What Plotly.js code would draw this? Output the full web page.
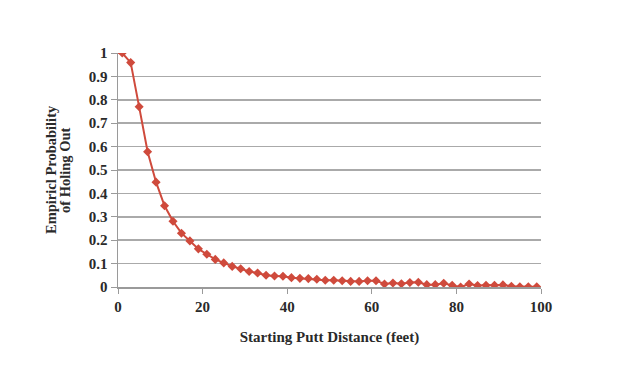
<!DOCTYPE html>
<html>
<head>
<meta charset="utf-8">
<script src="https://cdn.plot.ly/plotly-3.0.1.min.js"></script>
<style>html,body{margin:0;padding:0;background:#fff;}#chart{width:622px;height:368px;}</style>
</head>
<body>
<div id="chart"></div>
<script>
const distance = [1,3,5,7,9,11,13,15,17,19,21,23,25,27,29,31,33,35,37,39,41,43,45,47,49,51,53,55,57,59,61,63,65,67,69,71,73,75,77,79,81,83,85,87,89,91,93,95,97,99];
const probability = [1.0,0.959,0.770,0.578,0.448,0.347,0.281,0.230,0.197,0.163,0.140,0.118,0.103,0.088,0.078,0.066,0.060,0.050,0.047,0.046,0.040,0.037,0.036,0.033,0.029,0.029,0.027,0.024,0.024,0.027,0.027,0.013,0.017,0.014,0.019,0.020,0.010,0.010,0.016,0.007,0.0,0.013,0.006,0.007,0.007,0.009,0.003,0.001,0.001,0.001];
const xTickVals = [0,20,40,60,80,100];
const yTickVals = [0,0.1,0.2,0.3,0.4,0.5,0.6,0.7,0.8,0.9,1];
const yTickText = ['0','0.1','0.2','0.3','0.4','0.5','0.6','0.7','0.8','0.9','1'];
const xTitle = 'Starting Putt Distance (feet)';
const yTitleLines = ['Empiricl Probability', 'of Holing Out'];

const fontFam = '"Liberation Serif", "DejaVu Serif", serif';
const textColor = '#2a2a2a';
const trace = {
  x: distance, y: probability, type: 'scatter', mode: 'lines+markers',
  line: {color: '#cf4a3c', width: 2},
  marker: {symbol: 'diamond', size: 7, color: '#cf4a3c'},
  showlegend: false, hoverinfo: 'x+y'
};
const plotL = 118, plotW = 423;
const layout = {
  width: 622, height: 368,
  margin: {l: plotL, r: 81, t: 53, b: 81},
  paper_bgcolor: '#fff', plot_bgcolor: '#fff',
  font: {family: fontFam, color: textColor, size: 12},
  xaxis: {
    range: [0, 100], tickvals: xTickVals, ticktext: xTickVals.map(String),
    showgrid: false, zeroline: false, showline: true, linecolor: '#9a9a9a', linewidth: 1.5,
    ticks: 'outside', ticklen: 5, tickcolor: '#9a9a9a', tickwidth: 1,
    tickfont: {family: fontFam, size: 15, color: textColor, weight: 'bold'},
    title: {text: '<b>' + xTitle + '</b>', font: {family: fontFam, size: 15, color: textColor}, standoff: 18}
  },
  yaxis: {
    range: [0, 1], tickvals: yTickVals, ticktext: yTickText,
    showgrid: true, gridcolor: '#aaaaaa', gridwidth: 1.5, zeroline: false,
    showline: true, linecolor: '#9a9a9a', linewidth: 1.5,
    ticks: 'outside', ticklen: 6, tickcolor: '#9a9a9a', tickwidth: 1,
    tickfont: {family: fontFam, size: 15, color: textColor, weight: 'bold'},
    title: {text: ''}
  },
  annotations: [
    {text: '<b>' + yTitleLines[0] + '</b>', textangle: -90, xref: 'paper', yref: 'paper',
     x: (51 - plotL) / plotW, y: 0.5, xanchor: 'center', yanchor: 'middle', showarrow: false,
     font: {family: fontFam, size: 14.5, color: textColor}},
    {text: '<b>' + yTitleLines[1] + '</b>', textangle: -90, xref: 'paper', yref: 'paper',
     x: (65 - plotL) / plotW, y: 0.5, xanchor: 'center', yanchor: 'middle', showarrow: false,
     font: {family: fontFam, size: 14.5, color: textColor}}
  ]
};
Plotly.newPlot('chart', [trace], layout, {displayModeBar: false, staticPlot: true});
</script>
</body>
</html>
